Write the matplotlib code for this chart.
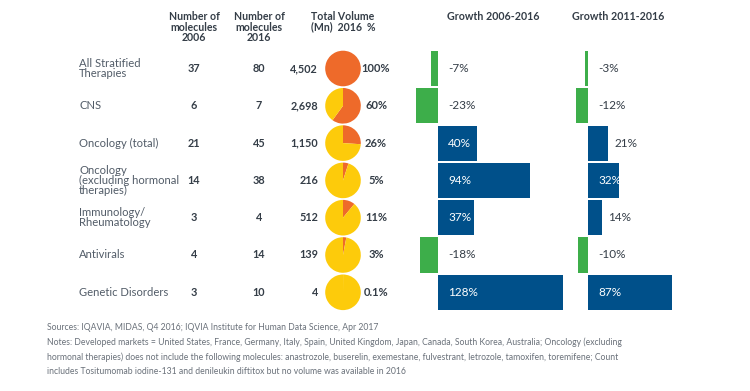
import matplotlib
matplotlib.use("Agg")
import matplotlib.pyplot as plt

plt.rcParams['font.family'] = ['Lato', 'DejaVu Sans']

# ---------------- data ----------------
categories = ["All Stratified\nTherapies", "CNS", "Oncology (total)",
              "Oncology\n(excluding hormonal\ntherapies)", "Immunology/\nRheumatology",
              "Antivirals", "Genetic Disorders"]
molecules_2006 = [37, 6, 21, 14, 3, 4, 3]
molecules_2016 = [80, 7, 45, 38, 4, 14, 10]
volume_2016 = ["4,502", "2,698", "1,150", "216", "512", "139", "4"]
volume_share = [100, 60, 26, 5, 11, 3, 0.1]
share_labels = ["100%", "60%", "26%", "5%", "11%", "3%", "0.1%"]
growth_2006_2016 = [-7, -23, 40, 94, 37, -18, 128]
growth_2011_2016 = [-3, -12, 21, 32, 14, -10, 87]

headers = ["Number of\nmolecules\n2006", "Number of\nmolecules\n2016", "Total Volume\n(Mn)  2016  %"]
growth_titles = ["Growth 2006-2016", "Growth 2011-2016"]
footnotes = [
    "Sources: IQAVIA, MIDAS, Q4 2016; IQVIA Institute for Human Data Science, Apr 2017",
    "Notes: Developed markets = United States, France, Germany, Italy, Spain, United Kingdom, Japan, Canada, South Korea, Australia; Oncology (excluding",
    "hormonal therapies) does not include the following molecules: anastrozole, buserelin, exemestane, fulvestrant, letrozole, tamoxifen, toremifene; Count",
    "includes Tositumomab iodine-131 and denileukin diftitox but no volume was available in 2016",
]

# ---------------- style ----------------
W, H = 750, 391
ORANGE = "#EE6A2A"
YELLOW = "#FDCB0B"
GREEN = "#3DAE4A"
BLUE = "#00508A"
DARK = "#343D47"
GRAY = "#525C68"
NOTE = "#6A717A"

row_y0, row_dy = 68.5, 37.3
n = len(categories)

fig = plt.figure(figsize=(W / 100, H / 100), dpi=100)
ax = fig.add_axes([0, 0, 1, 1])

def Y(ypx):
    return H - ypx

# pies
for i, s in enumerate(volume_share):
    cy = Y(row_y0 + i * row_dy)
    ax.pie([s, 100 - s], colors=[ORANGE, YELLOW], startangle=90, counterclock=False,
           center=(343, cy), radius=17.8, wedgeprops=dict(linewidth=0))

ax.set_xlim(0, W)
ax.set_ylim(0, H)
ax.set_aspect('equal')
ax.axis('off')

# headers
hx = [194, 259, 343]
for x, t in zip(hx, headers):
    ax.text(x, Y(11.5), t, ha='center', va='top', fontsize=7.6, fontweight='bold',
            color=DARK, linespacing=0.9)
for x, t in zip([493, 618], growth_titles):
    ax.text(x, Y(17), t, ha='center', va='center', fontsize=7.7, fontweight='bold', color=DARK)

# table rows
for i in range(n):
    y = Y(row_y0 + i * row_dy)
    ax.text(79, y, categories[i], ha='left', va='center', fontsize=8.1, color=GRAY, linespacing=0.9)
    ax.text(194, y, str(molecules_2006[i]), ha='center', va='center', fontsize=7.8,
            fontweight='bold', color=DARK)
    ax.text(259, y, str(molecules_2016[i]), ha='center', va='center', fontsize=7.8,
            fontweight='bold', color=DARK)
    ax.text(318, y, volume_2016[i], ha='right', va='center', fontsize=7.8,
            fontweight='bold', color=DARK)
    ax.text(376, y, share_labels[i], ha='center', va='center', fontsize=8.0,
            fontweight='bold', color=DARK)

# footnotes
for k, t in enumerate(footnotes):
    ax.text(47, Y(328 + k * 14.5), t, ha='left', va='center', fontsize=6.25, color=NOTE)

# growth bar charts
ylo = (H - row_y0) / row_dy
yhi = -row_y0 / row_dy

def bar_panel(values, px0, px1, zero_px, pxper):
    bax = fig.add_axes([px0 / W, 0, (px1 - px0) / W, 1])
    rows = list(range(len(values)))
    colors = [BLUE if v >= 0 else GREEN for v in values]
    bax.barh(rows, values, height=0.94, color=colors, linewidth=0)
    bax.set_xlim((px0 - zero_px) / pxper, (px1 - zero_px) / pxper)
    bax.set_ylim(ylo, yhi)
    bax.axis('off')
    for r, v in zip(rows, values):
        lab = f"{v}%"
        if v >= 30:
            bax.annotate(lab, (0, r), xytext=(7.5, 0), textcoords='offset points',
                         ha='left', va='center', fontsize=8.5, color='white')
        elif v > 0:
            bax.annotate(lab, (v, r), xytext=(4.5, 0), textcoords='offset points',
                         ha='left', va='center', fontsize=8.5, color=DARK)
        else:
            bax.annotate(lab, (0, r), xytext=(7.5, 0), textcoords='offset points',
                         ha='left', va='center', fontsize=8.5, color=DARK)
    return bax

bar_panel(growth_2006_2016, 405, 580, 438, 0.975)
bar_panel(growth_2011_2016, 565, 700, 588, 0.97)

fig.savefig("out.png", dpi=100)
